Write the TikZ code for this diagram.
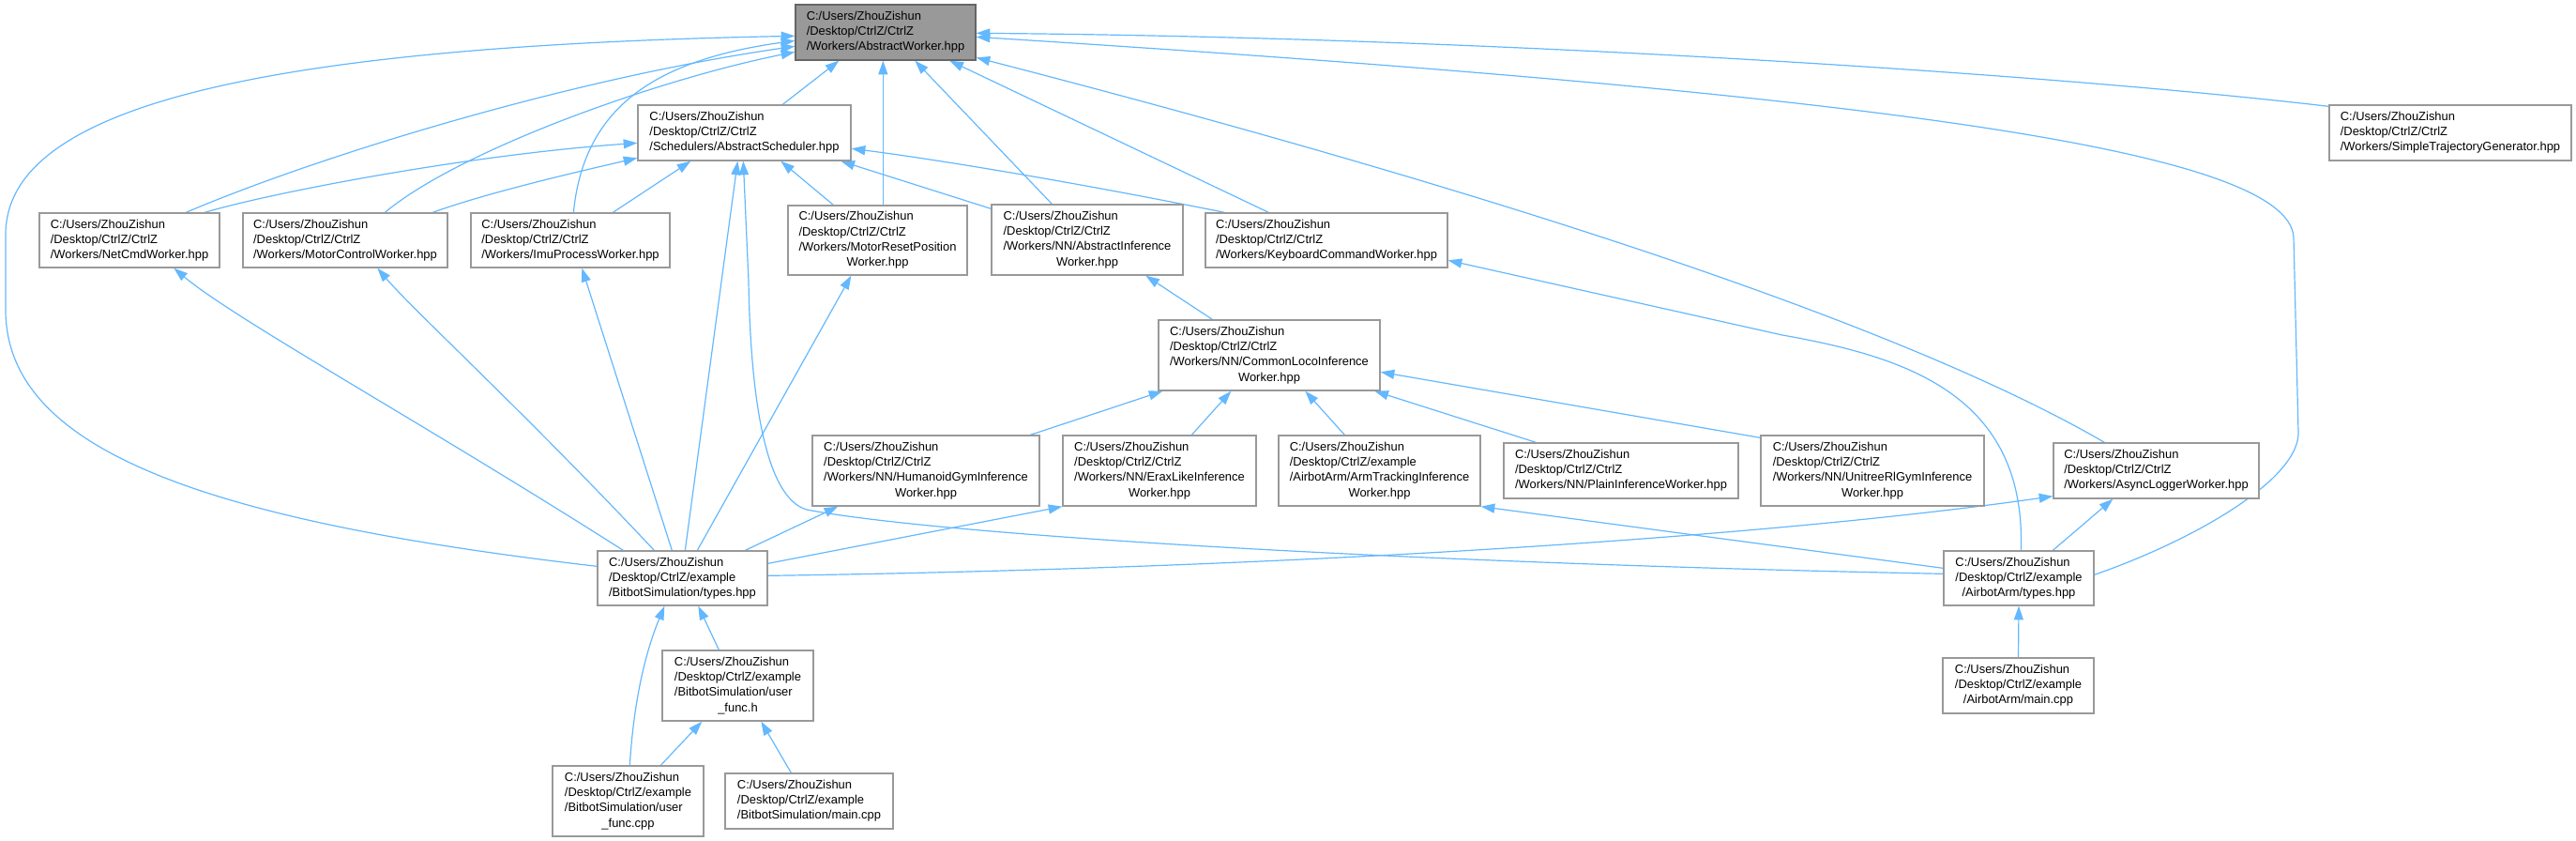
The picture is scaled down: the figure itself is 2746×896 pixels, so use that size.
\documentclass[tikz,border=0pt]{standalone}
\usepackage{fontspec}
\setmainfont{Liberation Sans}
\usetikzlibrary{arrows.meta,calc}
\definecolor{edgec}{HTML}{63B8FF}
\definecolor{boxc}{HTML}{999999}
\definecolor{rootf}{HTML}{999999}
\definecolor{rootd}{HTML}{666666}
\newcommand\lns[1]{\begin{tabular}{@{}l@{}}#1\end{tabular}}
\newcommand\lastc[1]{\multicolumn{1}{@{}c@{}}{#1}}
\newcommand\mkbox[7][]{\node[box,#1,minimum width={(#5-#3)*0.75pt},minimum height={(#6-#4)*0.75pt}] (#2) at ({(#3+#5)/2},{(#4+#6)/2}) {\lns{#7}};}
\pgfdeclarelayer{bg}
\pgfsetlayers{bg,main}
\tikzset{
  box/.style={draw=boxc, line width=1pt, fill=white, inner sep=0pt, font=\fontsize{9.7}{12.15}\selectfont, text=black},
  rootbox/.style={fill=rootf, draw=rootd},
  dep/.style={draw=edgec, line width=0.9pt, -{Triangle[length=11pt,width=7.5pt]}},
}
\begin{document}
\begin{tikzpicture}[x=0.75pt,y=-0.75pt]
\useasboundingbox (0,0) rectangle (2746,896);
\mkbox[rootbox]{aw}{848}{5}{1040}{64}{C:/Users/ZhouZishun\\/Desktop/CtrlZ/CtrlZ\\\lastc{/Workers/AbstractWorker.hpp}}
\mkbox{as}{680}{112}{907}{171}{C:/Users/ZhouZishun\\/Desktop/CtrlZ/CtrlZ\\\lastc{/Schedulers/AbstractScheduler.hpp}}
\mkbox{nc}{42}{227}{234}{285}{C:/Users/ZhouZishun\\/Desktop/CtrlZ/CtrlZ\\\lastc{/Workers/NetCmdWorker.hpp}}
\mkbox{mc}{259}{227}{477}{285}{C:/Users/ZhouZishun\\/Desktop/CtrlZ/CtrlZ\\\lastc{/Workers/MotorControlWorker.hpp}}
\mkbox{imu}{502}{227}{714}{285}{C:/Users/ZhouZishun\\/Desktop/CtrlZ/CtrlZ\\\lastc{/Workers/ImuProcessWorker.hpp}}
\mkbox{mrp}{840}{219}{1031}{293}{C:/Users/ZhouZishun\\/Desktop/CtrlZ/CtrlZ\\/Workers/MotorResetPosition\\\lastc{Worker.hpp}}
\mkbox{ai}{1057}{218}{1261}{293}{C:/Users/ZhouZishun\\/Desktop/CtrlZ/CtrlZ\\/Workers/NN/AbstractInference\\\lastc{Worker.hpp}}
\mkbox{kb}{1285}{227}{1543}{285}{C:/Users/ZhouZishun\\/Desktop/CtrlZ/CtrlZ\\\lastc{/Workers/KeyboardCommandWorker.hpp}}
\mkbox{stg}{2483}{112}{2741}{171}{C:/Users/ZhouZishun\\/Desktop/CtrlZ/CtrlZ\\\lastc{/Workers/SimpleTrajectoryGenerator.hpp}}
\mkbox{cl}{1235}{341}{1471}{416}{C:/Users/ZhouZishun\\/Desktop/CtrlZ/CtrlZ\\/Workers/NN/CommonLocoInference\\\lastc{Worker.hpp}}
\mkbox{hg}{866}{464}{1108}{539}{C:/Users/ZhouZishun\\/Desktop/CtrlZ/CtrlZ\\/Workers/NN/HumanoidGymInference\\\lastc{Worker.hpp}}
\mkbox{ex}{1133}{464}{1339}{539}{C:/Users/ZhouZishun\\/Desktop/CtrlZ/CtrlZ\\/Workers/NN/EraxLikeInference\\\lastc{Worker.hpp}}
\mkbox{at}{1363}{464}{1578}{539}{C:/Users/ZhouZishun\\/Desktop/CtrlZ/example\\/AirbotArm/ArmTrackingInference\\\lastc{Worker.hpp}}
\mkbox{pi}{1603}{472}{1853}{531}{C:/Users/ZhouZishun\\/Desktop/CtrlZ/CtrlZ\\\lastc{/Workers/NN/PlainInferenceWorker.hpp}}
\mkbox{ur}{1877}{464}{2115}{539}{C:/Users/ZhouZishun\\/Desktop/CtrlZ/CtrlZ\\/Workers/NN/UnitreeRlGymInference\\\lastc{Worker.hpp}}
\mkbox{al}{2189}{472}{2408}{531}{C:/Users/ZhouZishun\\/Desktop/CtrlZ/CtrlZ\\\lastc{/Workers/AsyncLoggerWorker.hpp}}
\mkbox{bt}{637}{587}{818}{645}{C:/Users/ZhouZishun\\/Desktop/CtrlZ/example\\\lastc{/BitbotSimulation/types.hpp}}
\mkbox{abt}{2072}{587}{2232}{645}{C:/Users/ZhouZishun\\/Desktop/CtrlZ/example\\\lastc{/AirbotArm/types.hpp}}
\mkbox{ufh}{706}{693}{867}{768}{C:/Users/ZhouZishun\\/Desktop/CtrlZ/example\\/BitbotSimulation/user\\\lastc{\_func.h}}
\mkbox{ufc}{589}{816}{750}{891}{C:/Users/ZhouZishun\\/Desktop/CtrlZ/example\\/BitbotSimulation/user\\\lastc{\_func.cpp}}
\mkbox{bm}{773}{824}{952}{883}{C:/Users/ZhouZishun\\/Desktop/CtrlZ/example\\\lastc{/BitbotSimulation/main.cpp}}
\mkbox{am}{2071}{701}{2232}{760}{C:/Users/ZhouZishun\\/Desktop/CtrlZ/example\\\lastc{/AirbotArm/main.cpp}}
\begin{pgfonlayer}{bg}
% into AbstractWorker
\draw[dep] ($(as.north west)+(155,0)$) -- ($(aw.south west)+(47,0)$);
\draw[dep] ($(nc.north west)+(157,0)$) .. controls (330,170) and (600,85) .. ($(aw.north west)+(0,45)$);
\draw[dep] ($(mc.north west)+(152,0)$) .. controls (490,160) and (700,85) .. ($(aw.north west)+(0,51)$);
\draw[dep] ($(imu.north west)+(110,0)$) .. controls (622,120) and (690,65) .. ($(aw.north west)+(0,39)$);
\draw[dep] ($(mrp.north west)+(102,0)$) -- ($(aw.south west)+(94,0)$);
\draw[dep] ($(ai.north west)+(65,0)$) -- ($(aw.south west)+(128,0)$);
\draw[dep] ($(kb.north west)+(68,0)$) -- ($(aw.south west)+(165,0)$);
\draw[dep] ($(al.north west)+(55,0)$) .. controls (2000,330) and (1500,180) .. ($(aw.north east)+(0,57)$);
\draw[dep] ($(bt.north west)+(0,17)$) .. controls (220,555) and (6,480) .. (6,330) -- (6,250) .. controls (6,120) and (250,50) .. ($(aw.north west)+(0,34)$);
\draw[dep] ($(abt.north east)+(0,26)$) .. controls (2340,575) and (2452,510) .. (2450,460) -- (2445,253) .. controls (2440,160) and (2000,100) .. ($(aw.north east)+(0,35)$);
\draw[dep] ($(stg.north west)+(0,2)$) .. controls (2200,80) and (1600,40) .. ($(aw.north east)+(0,31)$);
% into AbstractScheduler
\draw[dep] ($(nc.north west)+(177,0)$) .. controls (290,205) and (500,165) .. ($(as.north west)+(0,41)$);
\draw[dep] ($(mc.north west)+(203,0)$) .. controls (520,205) and (620,182) .. ($(as.north west)+(0,57)$);
\draw[dep] ($(imu.north west)+(152,0)$) -- ($(as.south west)+(57,0)$);
\draw[dep] ($(mrp.north west)+(49,0)$) -- ($(as.south west)+(153,0)$);
\draw[dep] ($(ai.north west)+(0,5)$) -- ($(as.south west)+(217,0)$);
\draw[dep] ($(kb.north west)+(21,0)$) .. controls (1150,195) and (1000,170) .. ($(as.north east)+(0,47)$);
\draw[dep] ($(bt.north west)+(94,0)$) -- ($(as.south west)+(107,0)$);
\draw[dep] ($(abt.north west)+(0,25)$) .. controls (1500,600) and (1000,570) .. (860,543) .. controls (815,530) and (800,420) .. (798,300) -- ($(as.south west)+(113,0)$);
% inference chain
\draw[dep] ($(cl.north west)+(58,0)$) -- ($(ai.south west)+(165,0)$);
\draw[dep] ($(hg.north west)+(233,0)$) -- ($(cl.south west)+(5,0)$);
\draw[dep] ($(ex.north west)+(138,0)$) -- ($(cl.south west)+(78,0)$);
\draw[dep] ($(at.north west)+(71,0)$) -- ($(cl.south west)+(157,0)$);
\draw[dep] ($(pi.north west)+(35,0)$) -- ($(cl.south west)+(231,0)$);
\draw[dep] ($(ur.north west)+(0,3)$) -- ($(cl.north east)+(0,56)$);
% from Bitbot types
\draw[dep] ($(bt.north west)+(28,0)$) .. controls (450,450) and (250,340) .. ($(nc.south west)+(144,0)$);
\draw[dep] ($(bt.north west)+(61,0)$) .. controls (560,440) and (440,330) .. ($(mc.south west)+(144,0)$);
\draw[dep] ($(bt.north west)+(80,0)$) -- ($(imu.south west)+(119,0)$);
\draw[dep] ($(bt.north west)+(107,0)$) -- ($(mrp.south west)+(68,0)$);
\draw[dep] ($(bt.north west)+(158,0)$) -- ($(hg.south west)+(28,0)$);
\draw[dep] ($(bt.north east)+(0,14)$) -- (ex.south west);
\draw[dep] ($(bt.north east)+(0,27)$) .. controls (1400,605) and (1900,570) .. ($(al.south west)+(0,-3)$);
% from Airbot types
\draw[dep] ($(abt.north west)+(0,19)$) -- (at.south east);
\draw[dep] ($(abt.north west)+(117,0)$) -- ($(al.south west)+(64,0)$);
\draw[dep] ($(abt.north west)+(83,0)$) .. controls (2160,420) and (2030,380) .. (1900,357) -- ($(kb.north east)+(0,51)$);
\draw[dep] (am.north) -- (abt.south);
% bottom
\draw[dep] ($(ufh.north west)+(61,0)$) -- ($(bt.south west)+(108,0)$);
\draw[dep] ($(ufc.north west)+(83,0)$) .. controls (676,740) and (690,690) .. ($(bt.south west)+(72,0)$);
\draw[dep] ($(ufc.north west)+(116,0)$) -- ($(ufh.south west)+(43,0)$);
\draw[dep] ($(bm.north west)+(71,0)$) -- ($(ufh.south west)+(106,0)$);
\end{pgfonlayer}
\end{tikzpicture}
\end{document}
